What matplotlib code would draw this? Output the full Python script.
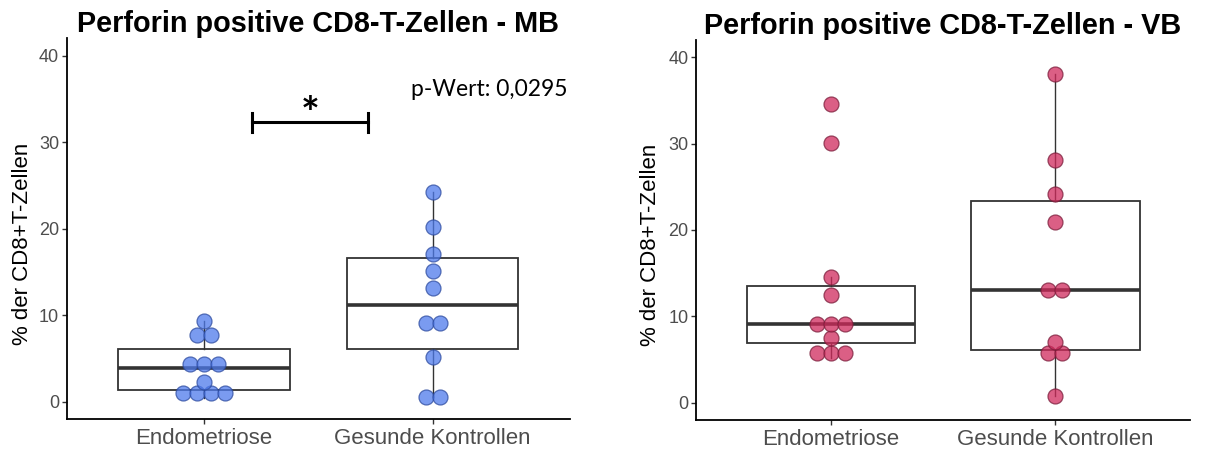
import numpy as np
import matplotlib
matplotlib.use("Agg")
import matplotlib.pyplot as plt

plt.rcParams['font.family'] = ['Liberation Sans', 'DejaVu Sans']

groups = ['Endometriose', 'Gesunde Kontrollen']

# % perforin positive CD8+ T cells
mb_endo = [0.44, 0.9, 1.22, 1.5, 2.25, 3.95, 4.37, 4.79, 7.37, 7.95, 9.36]
mb_ctrl = [0.5, 0.66, 5.15, 8.9, 9.3, 13.1, 15.1, 17.1, 20.2, 24.2]
vb_endo = [5.13, 5.7, 6.31, 7.45, 8.97, 9.12, 9.27, 12.5, 14.5, 30.1, 34.6]
vb_ctrl = [0.81, 5.6, 5.84, 7.07, 12.9, 13.2, 20.9, 24.15, 28.1, 38.05]

p_text = 'p-Wert: 0,0295'

W, H, DPI = 1208, 450, 100
BINWIDTH = 1.4
DOT_STEP_PX = 14
DOT_PX = 15


def dot_bins(values, bw):
    # dot-density binning: a bin starts at its first value and spans bw
    vals = np.sort(np.asarray(values, dtype=float))
    bins = []
    cur = [vals[0]]
    for v in vals[1:]:
        if v >= cur[0] + bw:
            bins.append(cur)
            cur = [v]
        else:
            cur.append(v)
    bins.append(cur)
    return [((min(b) + max(b)) / 2, len(b)) for b in bins]


def panel(ax, data, title, fill, edge):
    ax.boxplot(data, positions=[0, 1], widths=0.75, whis=1.5,
               showfliers=False, showcaps=False, patch_artist=True,
               boxprops=dict(facecolor='white', edgecolor='#333333', linewidth=1.3),
               medianprops=dict(color='#333333', linewidth=2.6),
               whiskerprops=dict(color='#333333', linewidth=1.0))
    ax.set_xlim(-0.6, 1.6)
    ax.set_ylim(-2, 42)

    # horizontal dot spacing in data units
    px_per_unit = ax.get_position().width * W / 2.2
    step = DOT_STEP_PX / px_per_unit
    for i, vals in enumerate(data):
        xs, ys = [], []
        for center, n in dot_bins(vals, BINWIDTH):
            for k in range(n):
                xs.append(i + (k - (n - 1) / 2) * step)
                ys.append(center)
        ax.plot(xs, ys, 'o', ms=DOT_PX * 0.72, mfc=fill, mec=edge, mew=0.9,
                alpha=0.75, zorder=3)

    ax.set_xticks([0, 1])
    ax.set_xticklabels(groups, fontsize=16, color='#4d4d4d')
    ax.set_yticks([0, 10, 20, 30, 40])
    ax.tick_params(axis='y', labelsize=13, labelcolor='#4d4d4d', length=3.5,
                   width=1, color='#333333', pad=2)
    ax.tick_params(axis='x', length=3.5, width=1, color='#333333', pad=3)
    for s in ['top', 'right']:
        ax.spines[s].set_visible(False)
    for s in ['left', 'bottom']:
        ax.spines[s].set_linewidth(1.3)
        ax.spines[s].set_color('black')
    ax.set_ylabel('% der CD8+T-Zellen', fontsize=16)
    ax.set_title(title, fontsize=20.8, fontweight='bold', pad=0)


fig = plt.figure(figsize=(W / DPI, H / DPI), dpi=DPI)
ax1 = fig.add_axes([0.0552, 0.0689, 0.4166, 0.8458])
ax2 = fig.add_axes([0.5762, 0.0667, 0.4090, 0.8444])

panel(ax1, [mb_endo, mb_ctrl], 'Perforin positive CD8-T-Zellen - MB',
      '#4e7aeb', '#2c4a9e')
panel(ax2, [vb_endo, vb_ctrl], 'Perforin positive CD8-T-Zellen - VB',
      '#d02a5c', '#7a1c3a')
ax1.yaxis.set_label_coords(-0.067, 0.46)
ax2.yaxis.set_label_coords(-0.071, 0.46)

# significance bracket between the groups
x0, x1, yb = 0.21, 0.717, 32.3
ax1.plot([x0, x1], [yb, yb], color='black', lw=2.2)
ax1.plot([x0, x0], [yb - 1.1, yb + 1.1], color='black', lw=2.2)
ax1.plot([x1, x1], [yb - 1.1, yb + 1.1], color='black', lw=2.2)
ax1.text(0.463, 33.2, '*', ha='center', va='center', fontsize=32,
         fontweight='bold', family=['Lato', 'DejaVu Sans'])
ax1.text(1.59, 36.1, p_text, ha='right', va='center', fontsize=16.5,
         family=['Lato', 'DejaVu Sans'])

fig.savefig('out.png', dpi=DPI)
